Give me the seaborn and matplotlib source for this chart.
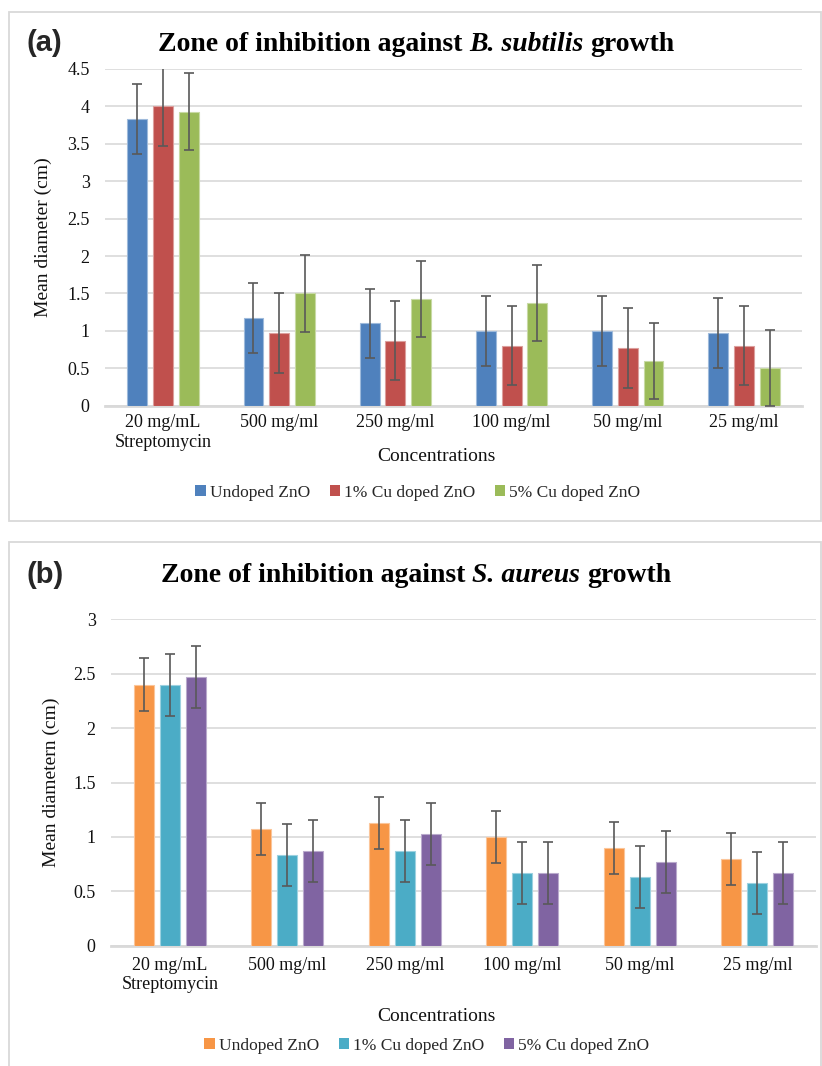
import matplotlib
matplotlib.use("Agg")
import matplotlib.pyplot as plt
from matplotlib.patches import Rectangle, Patch
from matplotlib.ticker import FuncFormatter
import matplotlib.colors as mcolors
import numpy as np
import pandas as pd
import seaborn as sns

# ---- data -------------------------------------------------------------
concentrations = ["20 mg/mL\nStreptomycin", "500 mg/ml", "250 mg/ml",
                  "100 mg/ml", "50 mg/ml", "25 mg/ml"]
samples = ["Undoped ZnO", "1% Cu doped ZnO", "5% Cu doped ZnO"]

# B. subtilis mean zone diameters (cm)
bs_undoped = [3.83, 1.17, 1.10, 1.00, 1.00, 0.97]
bs_cu1 = [4.00, 0.97, 0.87, 0.80, 0.77, 0.80]
bs_cu5 = [3.93, 1.50, 1.43, 1.37, 0.60, 0.50]
bs_err = [0.465, 0.53, 0.51]

# S. aureus mean zone diameters (cm)
sa_undoped = [2.40, 1.07, 1.13, 1.00, 0.90, 0.80]
sa_cu1 = [2.40, 0.83, 0.87, 0.67, 0.63, 0.58]
sa_cu5 = [2.47, 0.87, 1.03, 0.67, 0.77, 0.67]
sa_err = [0.24, 0.285, 0.285]

bs_colors = ["#4F81BD", "#C0504D", "#9BBB59"]
sa_colors = ["#F79646", "#4BACC6", "#8064A2"]

# ---- styling ----------------------------------------------------------
sns.set_theme(style="white")
plt.rcParams["font.family"] = ["Liberation Serif", "DejaVu Serif"]
SERIF = ["Liberation Serif", "DejaVu Serif"]
GRID = "#D9D9D9"
W, H = 822, 1066

fig = plt.figure(figsize=(W / 100, H / 100), dpi=100)


def frac(px, py):
    return px / W, 1 - py / H


def make_df(series):
    rows = []
    for name, vals in zip(samples, series):
        for c, v in zip(concentrations, vals):
            rows.append({"Concentration": c, "Sample": name, "value": v})
    return pd.DataFrame(rows)


def lighten(c, amt=0.45):
    r, g, b = mcolors.to_rgb(c)
    return (r + (1 - r) * amt, g + (1 - g) * amt, b + (1 - b) * amt)


def draw_panel(rect, series, errs, colors, ymax, ylabel, xlab_xy, ylab_x, pad):
    ax = fig.add_axes(rect)
    df = make_df(series)
    sns.barplot(data=df, x="Concentration", y="value", hue="Sample",
                order=concentrations, hue_order=samples, palette=colors,
                saturation=1, width=0.665, gap=0.225, errorbar=None,
                legend=False, ax=ax, zorder=3)
    for cont, err, col in zip(ax.containers, errs, colors):
        xs = [p.get_x() + p.get_width() / 2 for p in cont.patches]
        hs = [p.get_height() for p in cont.patches]
        for p in cont.patches:
            p.set_edgecolor(lighten(col))
            p.set_linewidth(0.8)
        ax.errorbar(xs, hs, yerr=err, fmt="none", ecolor="#595959",
                    elinewidth=1.2, capsize=3.3, capthick=1.2, zorder=4)
    ax.set_xlim(-0.5, len(concentrations) - 0.5)
    ax.set_ylim(0, ymax)
    ax.set_yticks(np.arange(0, ymax + 0.01, 0.5))
    ax.yaxis.set_major_formatter(FuncFormatter(lambda v, _: f"{v:g}"))
    ax.grid(axis="y", color=GRID, linewidth=1.2, zorder=0)
    ax.set_axisbelow(True)
    for s in ["top", "right", "left"]:
        ax.spines[s].set_visible(False)
    ax.spines["bottom"].set_color(GRID)
    ax.spines["bottom"].set_linewidth(2.0)
    ax.tick_params(axis="both", length=0, labelsize=13, colors="#111111")
    ax.tick_params(axis="y", pad=11)
    ax.tick_params(axis="x", pad=pad)
    ax.set_xlabel("Concentrations", fontsize=14, color="#111111")
    ax.xaxis.set_label_coords(*xlab_xy)
    ax.set_ylabel(ylabel, fontsize=14, color="#111111")
    ax.yaxis.set_label_coords(ylab_x, 0.5)
    return ax


def mixed_title(cx, cy, parts, size):
    renderer = fig.canvas.get_renderer()
    probe1 = fig.text(0, 0, "x x", fontsize=size, fontweight="bold", family=SERIF)
    probe2 = fig.text(0, 0, "xx", fontsize=size, fontweight="bold", family=SERIF)
    space = probe1.get_window_extent(renderer).width - probe2.get_window_extent(renderer).width
    probe1.remove()
    probe2.remove()
    texts, widths = [], []
    for s, style in parts:
        t = fig.text(0, 1 - cy / H, s, fontsize=size, fontweight="bold",
                     fontstyle=style, family=SERIF, va="center", ha="left",
                     color="#000000")
        texts.append(t)
        widths.append(t.get_window_extent(renderer).width)
    total = sum(widths) + space * (len(parts) - 1)
    x = cx - total / 2
    for t, w in zip(texts, widths):
        t.set_x(x / W)
        x += w + space


def legend_at(cx, cy, colors):
    handles = [Patch(facecolor=c, edgecolor="none") for c in colors]
    fig.legend(handles, samples, loc="center", bbox_to_anchor=frac(cx, cy),
               ncol=3, frameon=False, fontsize=12.5, handlelength=0.6,
               handleheight=0.6, handletextpad=0.25, columnspacing=1.1)


# panel frames
fig.add_artist(Rectangle(frac(9, 521), 812 / W, 509 / H, transform=fig.transFigure,
                         fill=False, edgecolor=GRID, linewidth=1.3))
fig.add_artist(Rectangle(frac(9, 1075), 812 / W, 533 / H, transform=fig.transFigure,
                         fill=False, edgecolor=GRID, linewidth=1.3))

# (a) B. subtilis
x0, y0 = frac(105, 405.7)
draw_panel([x0, y0, 697 / W, 336.7 / H], [bs_undoped, bs_cu1, bs_cu5], bs_err,
           bs_colors, 4.5, "Mean diameter (cm)", (0.476, -0.125), -0.076, 6)
mixed_title(416, 44, [("Zone of inhibition against", "normal"),
                      ("B. subtilis", "italic"), ("growth", "normal")], 20)
fig.text(*frac(26, 43), "(a)", fontsize=21, fontweight="bold",
         family=["Liberation Sans", "DejaVu Sans"], va="center", ha="left")
legend_at(418, 493, bs_colors)

# (b) S. aureus
x0, y0 = frac(111, 945.7)
draw_panel([x0, y0, 705 / W, 326.4 / H], [sa_undoped, sa_cu1, sa_cu5], sa_err,
           sa_colors, 3, "Mean diametern (cm)", (0.462, -0.19), -0.072, 8)
mixed_title(416, 575, [("Zone of inhibition against", "normal"),
                       ("S. aureus", "italic"), ("growth", "normal")], 20)
fig.text(*frac(26, 575), "(b)", fontsize=21, fontweight="bold",
         family=["Liberation Sans", "DejaVu Sans"], va="center", ha="left")
legend_at(427, 1046, sa_colors)

fig.savefig("out.png", dpi=100)
